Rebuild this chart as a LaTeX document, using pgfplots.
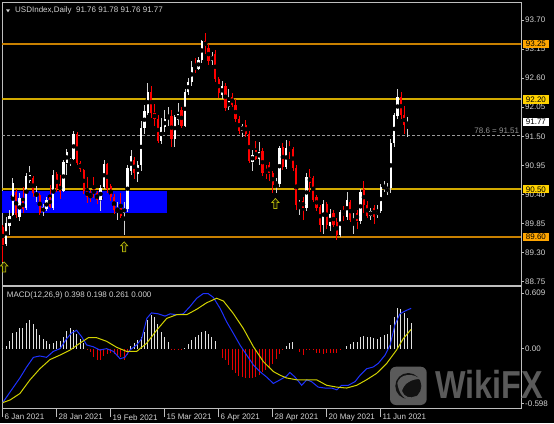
\documentclass[border=0pt]{standalone}
\usepackage{pgfplots}
\pgfplotsset{compat=1.18}
\usepackage{pgfplotstable}
\usepackage{fontspec}
\setmainfont{Liberation Sans}
\pgfdeclarelayer{bg}
\pgfsetlayers{bg,main}
\definecolor{frame}{HTML}{BEBEBE}
\definecolor{txt}{HTML}{D2D2D2}
\definecolor{lnorange}{HTML}{C88000}
\definecolor{lnyellow}{HTML}{D2AA00}
\definecolor{boxorange}{HTML}{FFA500}
\definecolor{boxyellow}{HTML}{FFD200}
\definecolor{wickbull}{HTML}{D2D2D2}
\definecolor{macdblue}{HTML}{1E32FF}
\definecolor{macdyellow}{HTML}{D2D200}
\definecolor{arrowc}{HTML}{B4B40A}
\definecolor{wm}{HTML}{5A5A5A}
\newcommand\lbl{\fontsize{8bp}{9.6bp}\selectfont}

\pgfdeclareplotmark{uparr}{%
  \pgfpathmoveto{\pgfqpoint{0pt}{5pt}}%
  \pgfpathlineto{\pgfqpoint{3.6pt}{1pt}}%
  \pgfpathlineto{\pgfqpoint{1.6pt}{1pt}}%
  \pgfpathlineto{\pgfqpoint{1.6pt}{-5pt}}%
  \pgfpathlineto{\pgfqpoint{-1.6pt}{-5pt}}%
  \pgfpathlineto{\pgfqpoint{-1.6pt}{1pt}}%
  \pgfpathlineto{\pgfqpoint{-3.6pt}{1pt}}%
  \pgfpathclose
  \pgfusepathqfillstroke
}

% bullish candles: i open high low close
\pgfplotstableread{
i o h l c
1 89.47 89.98 89.42 89.86
2 89.80 90.10 89.63 90.00
3 90.02 90.72 90.00 90.62
5 89.98 90.42 89.90 90.33
7 90.15 90.80 90.10 90.76
8 90.66 90.94 90.62 90.76
10 90.37 90.56 90.25 90.42
12 90.07 90.22 90.00 90.16
13 90.12 90.36 90.08 90.30
15 90.14 90.86 90.11 90.77
18 90.47 91.05 90.44 91.01
19 91.00 91.27 90.77 91.20
20 90.99 91.10 90.94 91.08
21 91.08 91.60 91.05 91.54
29 90.30 90.58 90.08 90.52
30 90.55 91.05 90.50 90.98
34 90.10 90.26 89.92 90.13
36 90.05 90.26 89.63 90.15
37 90.12 90.95 90.07 90.90
38 90.85 91.25 90.77 91.12
40 90.78 91.03 90.64 90.95
41 90.95 91.80 90.85 91.65
42 91.65 92.09 91.55 91.98
43 91.95 92.50 91.90 92.34
47 91.42 91.85 91.35 91.67
48 91.67 92.00 91.58 91.83
49 91.83 92.05 91.70 91.88
51 91.45 91.90 91.30 91.86
52 91.80 92.13 91.72 91.92
54 91.70 92.40 91.68 92.34
55 92.34 92.60 92.28 92.52
56 92.52 92.92 92.45 92.82
58 92.77 93.00 92.75 92.95
59 92.95 93.33 92.88 93.30
62 92.93 93.10 92.85 93.02
65 92.28 92.55 92.20 92.46
67 92.05 92.40 92.00 92.16
71 91.60 91.74 91.48 91.70
74 91.02 91.25 90.85 91.15
76 91.08 91.40 90.95 91.20
81 90.58 90.72 90.42 90.64
82 90.60 91.32 90.55 91.27
84 90.92 91.43 90.88 91.28
88 90.20 90.30 90.02 90.25
90 90.14 90.80 90.08 90.74
95 89.82 90.30 89.66 90.22
97 89.80 90.12 89.70 90.04
100 89.64 90.10 89.60 90.06
102 89.98 90.45 89.92 90.30
104 89.88 90.05 89.65 89.94
106 89.90 90.50 89.85 90.45
109 90.00 90.15 89.92 90.08
111 90.02 90.20 89.96 90.08
112 90.08 90.60 90.05 90.55
113 90.52 90.65 90.45 90.55
114 90.45 90.62 90.40 90.52
115 90.52 91.45 90.42 91.38
116 91.38 91.95 91.30 91.90
117 91.88 92.40 91.82 92.25
120 91.72 91.87 91.49 91.76
121 91.76 91.78 91.76 91.77
}\bull

% bearish candles
\pgfplotstableread{
i o h l c
0 89.78 89.82 89.13 89.45
4 90.45 90.50 89.95 90.02
6 90.28 90.55 90.05 90.12
9 90.72 90.75 90.36 90.42
11 90.40 90.42 90.01 90.05
14 90.35 90.58 90.14 90.17
16 90.78 90.83 90.45 90.50
17 90.60 90.77 90.31 90.45
22 91.54 91.59 90.96 91.00
23 91.00 91.03 90.83 90.88
24 90.86 90.89 90.40 90.46
25 90.47 90.74 90.23 90.36
26 90.43 90.48 90.26 90.35
27 90.50 90.74 90.33 90.40
28 90.42 90.46 90.23 90.30
31 90.97 90.99 90.42 90.50
32 90.56 90.60 90.27 90.35
33 90.36 90.40 90.03 90.10
35 90.15 90.42 89.95 90.00
39 91.05 91.10 90.70 90.80
44 92.34 92.45 91.85 91.95
45 91.95 92.12 91.70 91.82
46 91.82 91.90 91.37 91.42
50 91.88 92.00 91.30 91.45
53 92.00 92.05 91.66 91.70
57 92.82 92.98 92.70 92.77
60 93.30 93.45 93.05 93.20
61 93.18 93.25 92.85 92.93
63 93.05 93.13 92.52 92.58
64 92.58 92.62 92.22 92.32
66 92.46 92.50 91.98 92.04
68 92.25 92.32 92.05 92.10
69 92.10 92.20 91.78 91.82
70 91.82 91.88 91.55 91.60
72 91.72 91.80 91.48 91.55
73 91.55 91.60 91.00 91.04
75 91.25 91.42 91.05 91.08
77 91.22 91.28 90.75 90.80
78 90.88 90.95 90.70 90.82
79 90.95 91.02 90.65 90.80
80 90.80 90.85 90.42 90.58
83 91.30 91.38 90.86 90.92
85 91.30 91.42 91.08 91.25
86 91.26 91.30 90.85 90.90
87 90.90 90.95 90.10 90.20
89 90.28 90.35 89.92 90.15
91 90.74 90.89 90.45 90.62
92 90.72 90.75 90.25 90.30
93 90.36 90.40 90.08 90.14
94 90.16 90.20 89.70 89.82
96 90.22 90.26 89.75 89.82
98 90.05 90.10 89.78 89.82
99 89.88 89.95 89.53 89.64
101 90.10 90.18 89.90 90.04
103 90.25 90.30 89.88 89.92
105 90.05 90.10 89.75 89.90
107 90.50 90.65 90.05 90.20
108 90.20 90.28 89.95 90.00
110 90.15 90.20 89.85 89.98
118 92.24 92.34 91.82 91.90
119 91.90 92.08 91.55 91.72
}\bear

% MACD histogram
\pgfplotstableread{
i v
0 0.01
1 0.026
2 0.08
3 0.17
4 0.18
5 0.22
6 0.22
7 0.28
8 0.31
9 0.27
10 0.21
11 0.15
12 0.11
13 0.08
14 0.055
15 0.06
16 0.08
17 0.08
18 0.13
19 0.19
20 0.23
21 0.20
22 0.16
23 0.11
24 0.06
25 -0.02
26 -0.035
27 -0.09
28 -0.125
29 -0.12
30 -0.08
31 -0.06
32 -0.045
33 -0.06
34 -0.07
35 -0.095
36 -0.12
37 -0.07
38 0.026
39 0.06
40 0.09
41 0.13
42 0.18
43 0.31
44 0.37
45 0.35
46 0.27
47 0.18
48 0.13
49 0.07
50 -0.01
51 -0.015
52 -0.015
53 -0.02
54 0.01
55 0.055
56 0.09
57 0.13
58 0.145
59 0.18
60 0.19
61 0.16
62 0.13
63 0.085
64 0.00
65 -0.10
66 -0.125
67 -0.18
68 -0.235
69 -0.27
70 -0.30
71 -0.31
72 -0.325
73 -0.325
74 -0.325
75 -0.31
76 -0.29
77 -0.25
78 -0.235
79 -0.20
80 -0.17
81 -0.11
82 -0.06
83 -0.015
84 0.03
85 0.065
86 0.075
87 0.00
88 -0.035
89 -0.07
90 -0.015
91 -0.015
92 -0.02
93 -0.045
94 -0.05
95 -0.06
96 -0.05
97 -0.045
98 -0.05
99 -0.045
100 -0.015
101 0.00
102 0.025
103 0.055
104 0.07
105 0.07
106 0.13
107 0.135
108 0.13
109 0.13
110 0.12
111 0.11
112 0.13
113 0.145
114 0.165
115 0.26
116 0.35
117 0.44
118 0.43
119 0.385
120 0.33
121 0.28
}\hist

\begin{document}
\begin{tikzpicture}

% ---------------- price panel
\begin{axis}[
  name=main,
  scale only axis,
  width=519bp, height=282.3bp,
  xmin=-0.2, xmax=153.57, ymin=88.688, ymax=94.027,
  clip mode=individual,
  axis line style={draw=frame, line width=0.8bp},
  xtick=\empty,
  ytick={88.75,89.30,89.85,90.40,90.95,91.50,92.05,92.60,93.15,93.70},
  yticklabels={88.75,89.30,89.85,90.40,90.95,91.50,92.05,92.60,93.15,93.70},
  ytick pos=right, tick align=outside, major tick length=3bp,
  tick style={draw=frame, line width=0.6bp},
  yticklabel style={font=\lbl, text=txt, anchor=west, inner sep=0pt, xshift=1bp},
]
% blue zone
\addplot[fill=blue, draw=none] coordinates {(-0.2,90.055) (48.77,90.055) (48.77,90.471) (-0.2,90.471)} -- cycle;
% levels (drawn below the candles)
\addplot[color=lnorange, line width=1.8bp, mark=none] coordinates {(-0.2,89.60) (153.57,89.60)};
\addplot[color=lnorange, line width=1.8bp, mark=none] coordinates {(-0.2,93.25) (153.57,93.25)};
\addplot[color=lnyellow, line width=1.8bp, mark=none] coordinates {(-0.2,92.20) (153.57,92.20)};
\addplot[color=lnyellow, line width=1.8bp, mark=none] coordinates {(-0.2,90.50) (153.57,90.50)};
\addplot[color=gray!80, line width=0.8bp, mark=none, dash pattern=on 3bp off 2bp] coordinates {(-0.2,91.51) (153.57,91.51)};
% wicks
\addplot[only marks, mark=none, error bars/.cd, y dir=both, y explicit, error mark=none,
  error bar style={line width=0.8bp, draw=wickbull}]
  table[x=i, y expr={(\thisrow{h}+\thisrow{l})/2}, y error expr={(\thisrow{h}-\thisrow{l})/2}] {\bull};
\addplot[only marks, mark=none, error bars/.cd, y dir=both, y explicit, error mark=none,
  error bar style={line width=0.8bp, draw=red}]
  table[x=i, y expr={(\thisrow{h}+\thisrow{l})/2}, y error expr={(\thisrow{h}-\thisrow{l})/2}] {\bear};
% bodies
\addplot[only marks, mark=none, error bars/.cd, y dir=both, y explicit, error mark=none,
  error bar style={line width=2.3bp, draw=white}]
  table[x=i, y expr={(\thisrow{o}+\thisrow{c})/2}, y error expr={max(abs(\thisrow{c}-\thisrow{o})/2,0.006)}] {\bull};
\addplot[only marks, mark=none, error bars/.cd, y dir=both, y explicit, error mark=none,
  error bar style={line width=2.3bp, draw=red}]
  table[x=i, y expr={(\thisrow{o}+\thisrow{c})/2}, y error expr={max(abs(\thisrow{c}-\thisrow{o})/2,0.006)}] {\bear};
% arrows
\addplot[only marks, mark=uparr, mark options={draw=arrowc, fill=black!85!arrowc, line width=0.7bp}]
  coordinates {(0.44,89.03) (36,89.41) (80.8,90.23)};
% right-side boxes
\tikzset{lvl/.style={anchor=west, font=\lbl, text=black, inner xsep=3bp, inner ysep=1.3bp, text height=5.8bp, text depth=0bp, xshift=1.7bp}}
\node[lvl, fill=boxorange] at (axis cs:153.57,93.25) {93.25};
\node[lvl, fill=boxyellow] at (axis cs:153.57,92.20) {92.20};
\node[lvl, fill=white] at (axis cs:153.57,91.77) {91.77};
\node[lvl, fill=boxyellow] at (axis cs:153.57,90.50) {90.50};
\node[lvl, fill=boxorange] at (axis cs:153.57,89.60) {89.60};
\end{axis}

% ---------------- MACD panel
\begin{axis}[
  name=macd,
  at={(main.south west)}, anchor=north west, yshift=-1.7bp,
  scale only axis,
  width=519bp, height=121.3bp,
  xmin=-0.2, xmax=153.57, ymin=-0.648, ymax=0.676,
  clip mode=individual,
  axis line style={draw=frame, line width=0.8bp},
  xtick={0,16,32,48,64,80,96,112},
  xticklabels={6 Jan 2021,28 Jan 2021,19 Feb 2021,15 Mar 2021,6 Apr 2021,28 Apr 2021,20 May 2021,11 Jun 2021},
  xtick pos=left, ytick pos=right,
  ytick={-0.598,0,0.609}, yticklabels={-0.598,0.00,0.609},
  tick align=outside, major tick length=3bp,
  tick style={draw=frame, line width=0.6bp},
  xtick style={/pgfplots/major tick length=9bp},
  yticklabel style={font=\lbl, text=txt, anchor=west, inner sep=0pt, xshift=1bp},
  xticklabel style={font=\lbl, text=txt, anchor=north west, inner sep=0pt, xshift=1.8bp, yshift=-3bp},
]
\addplot[ycomb, white!88!black, line width=1bp, restrict y to domain=0:1] table[x=i, y=v] {\hist};
\addplot[ycomb, red!90!black, line width=1bp, restrict y to domain=-1:0] table[x=i, y=v] {\hist};
\addplot[macdblue, line width=1bp] coordinates {
(0,-0.59) (3.2,-0.42) (5.1,-0.32) (7.1,-0.20) (9.1,-0.095) (11,-0.08) (13,-0.095) (15,-0.03)
(17,0.00) (19,0.11) (20.4,0.17) (21.9,0.20) (23.4,0.13) (24.9,0.04) (26.9,0.02) (28.8,-0.015)
(30.8,0.00) (32.8,-0.03) (34.8,-0.11) (36.2,-0.095) (37.7,-0.015) (39.7,0.04) (41.2,0.11)
(42.7,0.33) (44.1,0.39) (46.1,0.38) (48.1,0.355) (49.6,0.38) (51.5,0.37) (53.5,0.38)
(55.5,0.46) (57.5,0.55) (59.4,0.60) (60.9,0.60) (62.4,0.56) (64.4,0.44) (66.4,0.29)
(68.3,0.17) (70.3,0.04) (72.3,-0.07) (74.3,-0.18) (76.2,-0.25) (78.2,-0.31) (80.2,-0.38)
(82.2,-0.34) (84.1,-0.30) (85.1,-0.26) (86.6,-0.31) (88.6,-0.40) (90.1,-0.34) (91.5,-0.36)
(93.5,-0.42) (95.5,-0.43) (97.5,-0.43) (99,-0.45) (100.4,-0.40) (102.4,-0.40) (104.4,-0.36)
(105.9,-0.29) (107.8,-0.22) (109.8,-0.20) (111.3,-0.16) (113.3,-0.07) (114.8,0.04)
(116.2,0.26) (117.7,0.38) (119.2,0.41) (121,0.44)};
\addplot[macdyellow, line width=1bp] coordinates {
(0,-0.59) (2.2,-0.56) (5.1,-0.49) (8.1,-0.34) (11,-0.22) (14,-0.12) (17,-0.07) (20,-0.015)
(22.9,0.06) (25.4,0.12) (27.8,0.12) (30.8,0.08) (33.8,0.014) (36.7,-0.03) (39.7,-0.03)
(42.7,0.06) (45.6,0.20) (48.6,0.33) (51.5,0.37) (54.5,0.37) (57.5,0.43) (60.4,0.50)
(63.4,0.55) (65.4,0.52) (68.3,0.385) (71.3,0.22) (74.3,0.02) (77.2,-0.14) (80.2,-0.25)
(82.2,-0.29) (84.1,-0.32) (87.1,-0.34) (90.1,-0.34) (93,-0.34) (96,-0.40) (99,-0.42)
(101.9,-0.43) (104.9,-0.40) (107.8,-0.34) (110.8,-0.27) (113.8,-0.16) (116.7,-0.015)
(118.7,0.11) (121,0.21)};
\end{axis}

% ---------------- canvas, texts, watermark (pixel coordinates, origin bottom-left)
\begin{scope}[shift={(main.south west)}]
\begin{scope}[x=1bp, y=1bp, shift={(-2,-138)}]
\begin{pgfonlayer}{bg}
\fill[black] (0,0) rectangle (554,423);
\end{pgfonlayer}
\fill[txt] (6,413.7) -- (10,413.7) -- (8,410.7) -- cycle;
\node[anchor=base west, inner sep=0pt, font=\lbl, text=txt] at (15,410.3) {USDIndex,Daily\ \ 91.76 91.78 91.76 91.77};
\node[anchor=base west, inner sep=0pt, font=\lbl, text=txt] at (6.7,125.7) {MACD(12,26,9) 0.398 0.198 0.261 0.000};
\node[anchor=base east, inner sep=0pt, font=\lbl, text=gray!85] at (519.3,289.7) {78.6 = 91.51};
\fill[wm, rounded corners=6bp] (390,18) rectangle (426.7,56.3);
\fill[black!80!wm] (408.3,37) circle (13);
\fill[wm] (397.3,40) .. controls (400,50) and (414,50) .. (420,44) .. controls (412,44) and (404,40) .. (402,32) .. controls (404,26) and (410,24) .. (416,27) .. controls (412,20) and (400,22) .. cycle;
\node[anchor=base west, inner sep=0pt, text=wm, font=\fontsize{39bp}{40bp}\selectfont\bfseries, xscale=0.83] at (435,24.7) {WikiFX};
\end{scope}
\end{scope}
\end{tikzpicture}
\end{document}
